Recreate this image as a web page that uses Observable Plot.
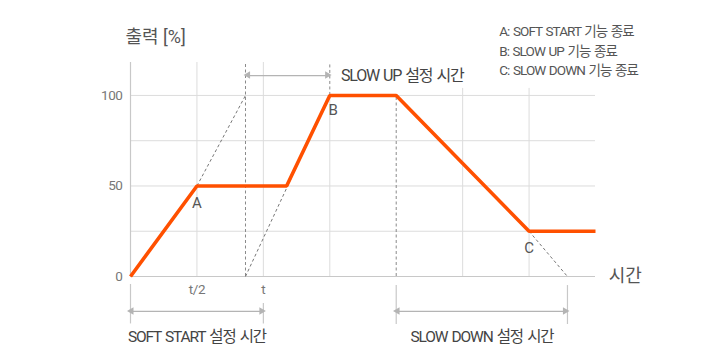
<!DOCTYPE html>
<html>
<head>
<meta charset="utf-8">
<script src="https://cdn.jsdelivr.net/npm/d3@7"></script>
<script src="https://cdn.jsdelivr.net/npm/@observablehq/plot@0.6"></script>
<style>
  html, body { margin: 0; padding: 0; background: #fff; }
  #chart svg { display: block; }
</style>
</head>
<body>
<div id="chart"></div>
<script>
// Output curve (time in grid units, output in %)
const outTime = [0, 1, 2.35, 3, 4, 6, 7];
const outPct  = [0, 50, 50, 100, 100, 25, 25];

// Point labels
const ptNames = ["A", "B", "C"];
const ptTime  = [1, 3.05, 6];
const ptPct   = [40.3, 91.7, 15.5];

// Y tick labels
const yTicks = [0, 50, 100];
const gridY = [25, 50, 75, 100];

// X tick labels
const xTickLabels = ["t/2", "t"];
const xTickPos = [1, 2];

// Legend lines
const legendLines = ["A: SOFT START 기능 종료", "B: SLOW UP 기능 종료", "C: SLOW DOWN 기능 종료"];

// Setting-time labels
const slowUpLabel = "SLOW UP 설정 시간";
const softStartLabel = "SOFT START 설정 시간";
const slowDownLabel = "SLOW DOWN 설정 시간";

// Setting times
const slowUpStart = 1.731, slowUpEnd = 3;
const softStartEnd = 2;
const slowDownStart = 4, slowDownEnd = 6.578;

const font = "Roboto, 'Noto Sans CJK KR', sans-serif";
const yTop = 118.2;
const rightGridTop = 103.9;

const outData = outTime.map((t, i) => ({t, v: outPct[i]}));
const ptData = ptNames.map((n, i) => ({n, t: ptTime[i], v: ptPct[i]}));
const legendData = legendLines.map((s, i) => ({s, v: [135.4, 124.3, 113.8][i]}));

const vGrid = [
  {x: 1, y1: 0, y2: yTop},
  {x: 2, y1: 0, y2: yTop},
  {x: 3, y1: 0, y2: 100},
  {x: 5, y1: 0, y2: rightGridTop},
  {x: 6, y1: 0, y2: rightGridTop}
];
const vDash = [
  {x: slowUpStart, y1: 0, y2: yTop},
  {x: slowUpEnd, y1: 100, y2: yTop},
  {x: slowDownStart, y1: 0, y2: 100}
];
const diagDash = [
  {x1: 1, y1: 50, x2: slowUpStart, y2: 100},
  {x1: slowUpStart, y1: 0, x2: slowUpEnd, y2: 100},
  {x1: 6, y1: 25, x2: slowDownEnd, y2: 0}
];
const arrows = [
  {x1: 1.775, x2: 2.97, y: 111},
  {x1: 0.02, x2: 1.98, y: -19.3},
  {x1: 4.025, x2: 6.55, y: -19.3}
];
const heads = arrows.flatMap(a => [
  {x: a.x1, y: a.y, r: -90, dx: 4},
  {x: a.x2, y: a.y, r: 90, dx: -4}
]);
const bottomTicks = [
  {x: 0, y1: -4.4, y2: -26.2},
  {x: softStartEnd, y1: -14.9, y2: -26.2},
  {x: slowDownStart, y1: -5, y2: -26.5},
  {x: slowDownEnd, y1: -5, y2: -26.5}
];
const bottomLabels = [
  {s: softStartLabel, x: 1.0, y: -33.7},
  {s: slowDownLabel, x: 5.29, y: -33.7}
];

const chart = Plot.plot({
  width: 720,
  height: 360,
  marginLeft: 130,
  marginRight: 125,
  marginTop: 62,
  marginBottom: 84,
  x: {domain: [0, 7], axis: null},
  y: {domain: [0, yTop], axis: null},
  style: {fontFamily: font, background: "#fff", overflow: "visible"},
  marks: [
    Plot.ruleY(gridY, {x1: 0, x2: 7, stroke: "#dcdcdc", strokeWidth: 1}),
    Plot.ruleX(vGrid, {x: "x", y1: "y1", y2: "y2", stroke: "#dcdcdc", strokeWidth: 1}),
    Plot.ruleY([0], {x1: 0, x2: 7, stroke: "#c8c8c8", strokeWidth: 1.2}),
    Plot.ruleX([0], {y1: 0, y2: yTop, stroke: "#c8c8c8", strokeWidth: 1.2}),
    Plot.ruleX(vDash, {x: "x", y1: "y1", y2: "y2", stroke: "#8a8a8a", strokeWidth: 1, strokeDasharray: "3,2.5"}),
    Plot.link(diagDash, {x1: "x1", y1: "y1", x2: "x2", y2: "y2", stroke: "#777", strokeWidth: 1, strokeDasharray: "3,2.5"}),
    Plot.ruleX(bottomTicks, {x: "x", y1: "y1", y2: "y2", stroke: "#c8c8c8", strokeWidth: 1.2}),
    Plot.ruleY(arrows, {y: "y", x1: "x1", x2: "x2", stroke: "#b4b4b4", strokeWidth: 1.3}),
    Plot.dot(heads, {x: "x", y: "y", dx: "dx", rotate: "r", symbol: "triangle", r: 2.8, fill: "#b4b4b4", stroke: "none"}),
    Plot.line(outData, {x: "t", y: "v", stroke: "#ff5000", strokeWidth: 3.6, strokeLinejoin: "miter", strokeLinecap: "butt"}),
    Plot.text(ptData, {x: "t", y: "v", text: "n", fontSize: 15, fill: "#555"}),
    Plot.text(yTicks, {x: -0.12, y: d => d, text: d => String(d), textAnchor: "end", fontSize: 13.5, fill: "#777"}),
    Plot.text(xTickLabels, {x: (d, i) => xTickPos[i], y: -7.2, text: d => d, fontSize: 13.5, fill: "#777"}),
    Plot.text(["출력 [%]"], {x: -0.075, y: 132, text: d => d, textAnchor: "start", fontSize: 18, fill: "#555"}),
    Plot.text(["시간"], {x: 7.2, y: 0, text: d => d, textAnchor: "start", fontSize: 18, fill: "#555"}),
    Plot.text([slowUpLabel], {x: 3.17, y: 111, text: d => d, textAnchor: "start", fontSize: 16, fill: "#444"}),
    Plot.text(bottomLabels, {x: "x", y: "y", text: "s", fontSize: 15.5, fill: "#444"}),
    Plot.text(legendData, {x: 5.55, y: "v", text: "s", textAnchor: "start", fontSize: 13.5, fill: "#555"})
  ]
});

// Condensed look: tighten letter spacing (keep word gaps) on the text labels
const spacing = new Map([
  ...legendLines.map(s => [s, [-0.9, 1]]),
  [slowUpLabel, [-1.25, 1.5]],
  [softStartLabel, [-1.15, 1.5]],
  [slowDownLabel, [-1.15, 1.5]],
  ...xTickLabels.map(s => [s, [-0.4, 0]]),
  ...yTicks.map(v => [String(v), [-0.4, 0]])
]);
d3.select(chart).selectAll("text").each(function() {
  const ls = spacing.get(this.textContent);
  if (ls != null) {
    this.style.letterSpacing = ls[0] + "px";
    this.style.wordSpacing = ls[1] + "px";
  }
});
document.getElementById("chart").appendChild(chart);
</script>
</body>
</html>
